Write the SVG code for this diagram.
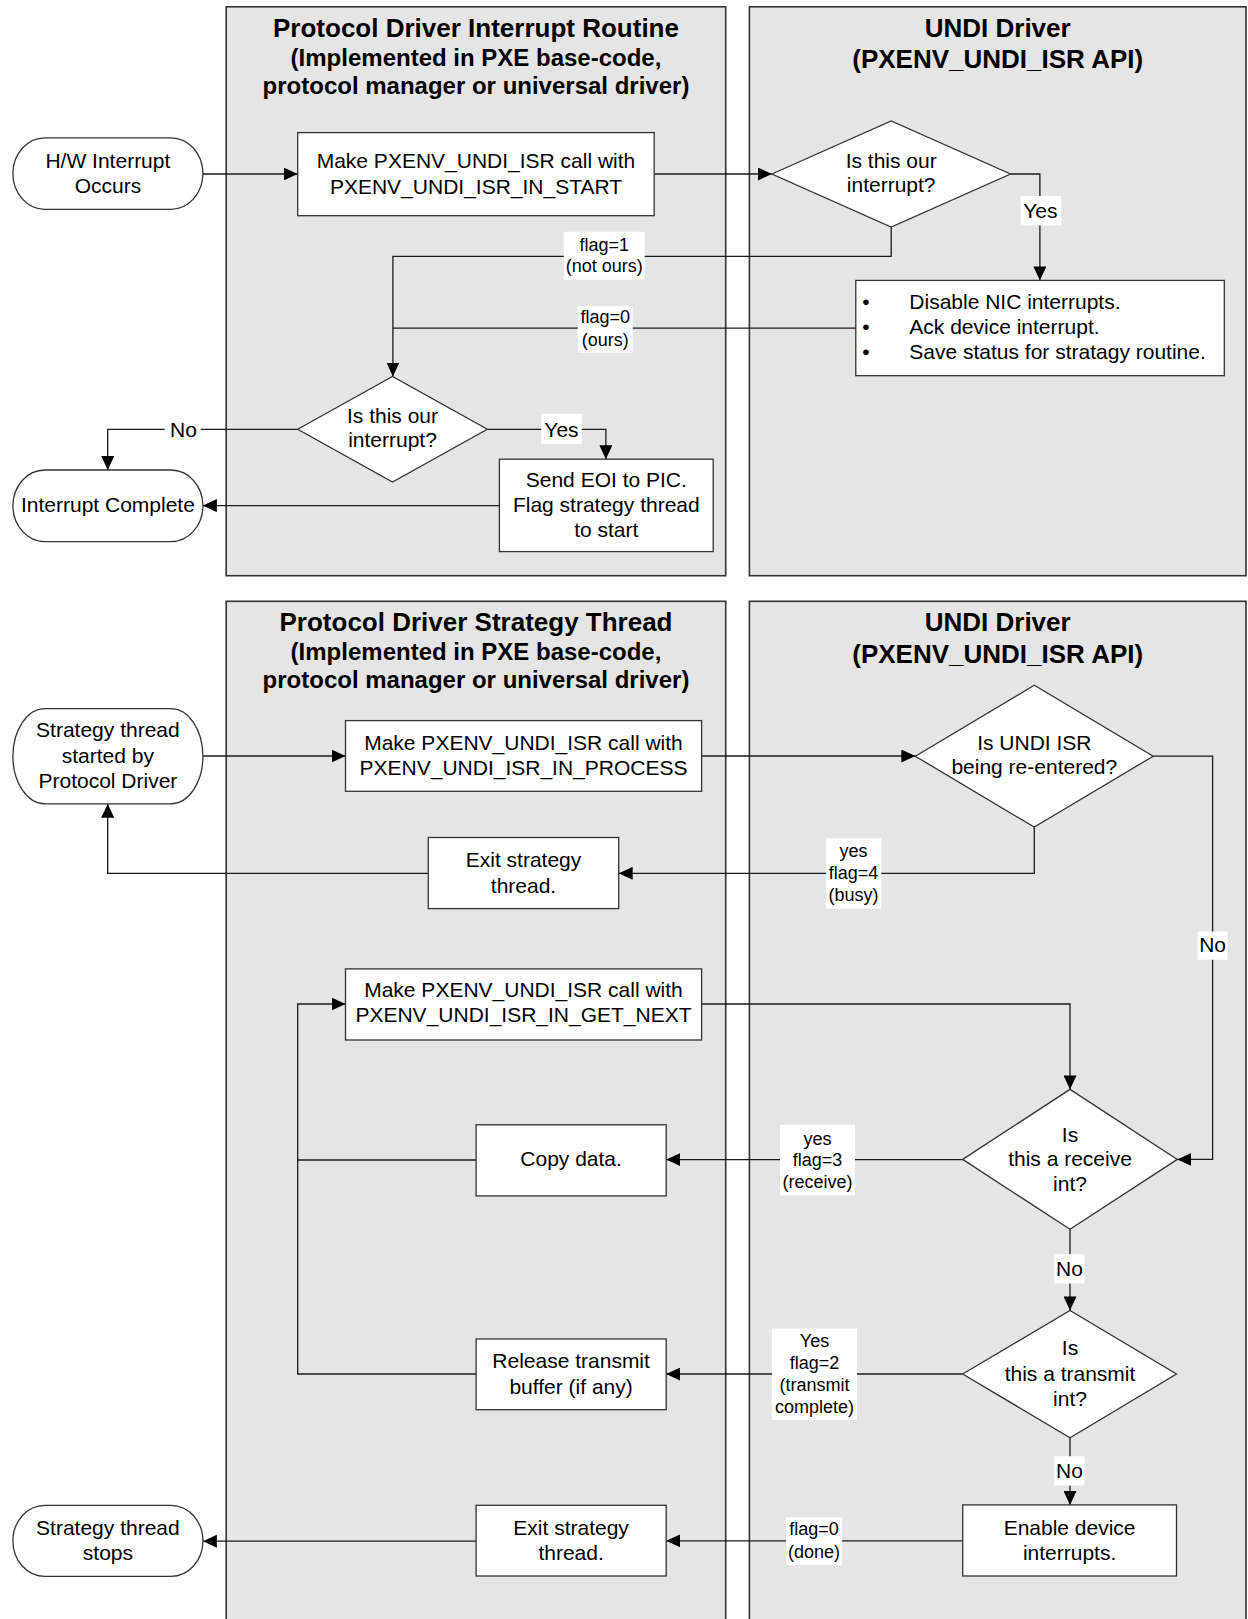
<svg xmlns="http://www.w3.org/2000/svg" width="1248" height="1619" viewBox="0 0 1248 1619">
  <style>
    .lane { fill: #e5e5e5; stroke: #333; stroke-width: 1.6; }
    .node { fill: #fff; stroke: #333; stroke-width: 1.3; }
    .lbg { fill: #fff; stroke: none; }
    .wire { fill: none; stroke: #1a1a1a; stroke-width: 1.3; }
    .arrow { fill: none; stroke: #1a1a1a; stroke-width: 1.3; marker-end: url(#arr); }
    text { font-family: "Liberation Sans", Arial, sans-serif; fill: #000; }
    .t { font-size: 21px; text-anchor: middle; }
    .tl { font-size: 21px; }
    .s { font-size: 18px; text-anchor: middle; }
    .h1 { font-size: 26px; font-weight: bold; text-anchor: middle; }
    .h2 { font-size: 24px; font-weight: bold; text-anchor: middle; }
  </style>
  <defs>
    <marker id="arr" markerUnits="userSpaceOnUse" markerWidth="14" markerHeight="13" refX="14" refY="6.5" orient="auto">
      <path d="M0,0 L14,6.5 L0,13 z" fill="#000"/>
    </marker>
  </defs>

  <!-- swimlanes -->
  <g id="lane-isr">
    <rect class="lane" x="226.2" y="6.8" width="499.5" height="568.9"/>
    <text class="h1" x="476" y="37.4">Protocol Driver Interrupt Routine</text>
    <text class="h2" x="476" y="65.5">(Implemented in PXE base-code,</text>
    <text class="h2" x="476" y="94.4">protocol manager or universal driver)</text>
  </g>
  <g id="lane-undi-isr">
    <rect class="lane" x="749.4" y="6.8" width="496.6" height="568.9"/>
    <text class="h1" x="997.7" y="37">UNDI Driver</text>
    <text class="h1" x="997.7" y="68.3">(PXENV_UNDI_ISR API)</text>
  </g>
  <g id="lane-strategy">
    <rect class="lane" x="226.2" y="601.3" width="499.5" height="1030"/>
    <text class="h1" x="476" y="631.4">Protocol Driver Strategy Thread</text>
    <text class="h2" x="476" y="660.2">(Implemented in PXE base-code,</text>
    <text class="h2" x="476" y="688">protocol manager or universal driver)</text>
  </g>
  <g id="lane-undi-strategy">
    <rect class="lane" x="749.4" y="601.3" width="496.6" height="1030"/>
    <text class="h1" x="997.7" y="631">UNDI Driver</text>
    <text class="h1" x="997.7" y="662.8">(PXENV_UNDI_ISR API)</text>
  </g>

  <!-- connectors -->
  <g id="connectors">
    <path class="arrow" d="M202.9,174 H297.7"/>
    <path class="arrow" d="M654.2,174 H771.9"/>
    <path class="arrow" d="M1010.5,174 H1039.9 V280.4"/>
    <path class="arrow" d="M891.2,227 V256.3 H392.9 V376.5"/>
    <path class="wire" d="M855.8,328.2 H392.9"/>
    <path class="arrow" d="M297.7,429.3 H107.7 V470"/>
    <path class="arrow" d="M487.3,429.3 H605.9 V459.2"/>
    <path class="arrow" d="M499.4,505.6 H202.9"/>

    <path class="arrow" d="M202.9,756 H345.5"/>
    <path class="arrow" d="M701.6,756 H915.3"/>
    <path class="arrow" d="M1034.3,827.1 V873.3 H618.7"/>
    <path class="arrow" d="M428.3,873.3 H107.7 V803.8"/>
    <path class="arrow" d="M1153.2,756.2 H1212.6 V1159.4 H1177.3"/>
    <path class="arrow" d="M701.6,1004 H1070 V1089.4"/>
    <path class="arrow" d="M962.7,1159.6 H666.2"/>
    <path class="wire" d="M476.1,1160 H297.7"/>
    <path class="arrow" d="M476.1,1374 H297.7 V1004 H345.5"/>
    <path class="arrow" d="M1070,1229.3 V1310.4"/>
    <path class="arrow" d="M962.7,1374 H666.2"/>
    <path class="arrow" d="M1070,1437.8 V1504.9"/>
    <path class="arrow" d="M962.7,1540.8 H666.2"/>
    <path class="arrow" d="M476.1,1541.2 H202.9"/>

    <!-- connector labels -->
    <rect class="lbg" x="563.8" y="231.8" width="80.8" height="48"/>
    <text class="s" x="604.2" y="251">flag=1</text>
    <text class="s" x="604.2" y="271.5">(not ours)</text>
    <rect class="lbg" x="577.7" y="306" width="55" height="46.7"/>
    <text class="s" x="605.2" y="323.4">flag=0</text>
    <text class="s" x="605.2" y="345.5">(ours)</text>
    <rect class="lbg" x="1020.6" y="196" width="40.6" height="29.4"/>
    <text class="t" x="1040.4" y="217.5">Yes</text>
    <rect class="lbg" x="164.7" y="414" width="36" height="30"/>
    <text class="t" x="183.5" y="436.5">No</text>
    <rect class="lbg" x="541.2" y="413.8" width="40.6" height="30.2"/>
    <text class="t" x="561.5" y="436.5">Yes</text>

    <rect class="lbg" x="826.1" y="838.3" width="55.1" height="70.3"/>
    <text class="s" x="853.6" y="857.2">yes</text>
    <text class="s" x="853.6" y="879.3">flag=4</text>
    <text class="s" x="853.6" y="901.4">(busy)</text>
    <rect class="lbg" x="1197.7" y="931.5" width="29.8" height="28.2"/>
    <text class="t" x="1212.6" y="951.8">No</text>
    <rect class="lbg" x="780" y="1124.8" width="75" height="70.7"/>
    <text class="s" x="817.5" y="1144.5">yes</text>
    <text class="s" x="817.5" y="1165.8">flag=3</text>
    <text class="s" x="817.5" y="1187.9">(receive)</text>
    <rect class="lbg" x="1054.3" y="1254.2" width="30.2" height="29.3"/>
    <text class="t" x="1069.4" y="1276">No</text>
    <rect class="lbg" x="771.9" y="1328.5" width="85.1" height="91.6"/>
    <text class="s" x="814.5" y="1346.6">Yes</text>
    <text class="s" x="814.5" y="1368.7">flag=2</text>
    <text class="s" x="814.5" y="1390.8">(transmit</text>
    <text class="s" x="814.5" y="1412.9">complete)</text>
    <rect class="lbg" x="1054.3" y="1456.3" width="30.2" height="29.3"/>
    <text class="t" x="1069.4" y="1478">No</text>
    <rect class="lbg" x="786" y="1517.3" width="56.2" height="47.8"/>
    <text class="s" x="814.1" y="1535.4">flag=0</text>
    <text class="s" x="814.1" y="1557.5">(done)</text>
  </g>

  <!-- interrupt routine nodes -->
  <g id="hw-interrupt">
    <rect class="node" x="12.9" y="137.8" width="190" height="71.5" rx="32" ry="35.7"/>
    <text class="t" x="107.9" y="167.5">H/W Interrupt</text>
    <text class="t" x="107.9" y="193.3">Occurs</text>
  </g>
  <g id="isr-start">
    <rect class="node" x="297.7" y="132.6" width="356.5" height="83.1"/>
    <text class="t" x="476" y="168">Make PXENV_UNDI_ISR call with</text>
    <text class="t" x="476" y="193.7">PXENV_UNDI_ISR_IN_START</text>
  </g>
  <g id="undi-ours">
    <polygon class="node" points="771.9,174 891.2,120.9 1010.5,174 891.2,227"/>
    <text class="t" x="891.2" y="168">Is this our</text>
    <text class="t" x="891.2" y="192">interrupt?</text>
  </g>
  <g id="undi-ack">
    <rect class="node" x="855.8" y="280.4" width="368.5" height="95.3"/>
    <text class="t" x="866" y="309.4">•</text>
    <text class="t" x="866" y="333.5">•</text>
    <text class="t" x="866" y="358.8">•</text>
    <text class="tl" x="909.3" y="309.4">Disable NIC interrupts.</text>
    <text class="tl" x="909.3" y="333.5">Ack device interrupt.</text>
    <text class="tl" x="909.3" y="358.8">Save status for stratagy routine.</text>
  </g>
  <g id="isr-ours">
    <polygon class="node" points="297.7,429.3 392.5,376.5 487.3,429.3 392.5,482.1"/>
    <text class="t" x="392.5" y="423">Is this our</text>
    <text class="t" x="392.5" y="447.2">interrupt?</text>
  </g>
  <g id="send-eoi">
    <rect class="node" x="499.4" y="459.2" width="213.8" height="92.4"/>
    <text class="t" x="606.3" y="487">Send EOI to PIC.</text>
    <text class="t" x="606.3" y="512.2">Flag strategy thread</text>
    <text class="t" x="606.3" y="537.2">to start</text>
  </g>
  <g id="interrupt-complete">
    <rect class="node" x="12.9" y="470" width="190" height="71.6" rx="32" ry="35.8"/>
    <text class="t" x="107.9" y="512.2">Interrupt Complete</text>
  </g>

  <!-- strategy thread nodes -->
  <g id="strategy-start">
    <rect class="node" x="12.9" y="708.6" width="190" height="95.2" rx="32" ry="47.6"/>
    <text class="t" x="107.9" y="736.7">Strategy thread</text>
    <text class="t" x="107.9" y="762.8">started by</text>
    <text class="t" x="107.9" y="787.7">Protocol Driver</text>
  </g>
  <g id="isr-process">
    <rect class="node" x="345.5" y="720.6" width="356.1" height="70.7"/>
    <text class="t" x="523.5" y="749.5">Make PXENV_UNDI_ISR call with</text>
    <text class="t" x="523.5" y="774.5">PXENV_UNDI_ISR_IN_PROCESS</text>
  </g>
  <g id="undi-reentered">
    <polygon class="node" points="915.3,756.2 1034.3,685.3 1153.2,756.2 1034.3,827.1"/>
    <text class="t" x="1034.3" y="749.5">Is UNDI ISR</text>
    <text class="t" x="1034.3" y="774">being re-entered?</text>
  </g>
  <g id="exit-busy">
    <rect class="node" x="428.3" y="837.5" width="190.4" height="71.1"/>
    <text class="t" x="523.5" y="866.5">Exit strategy</text>
    <text class="t" x="523.5" y="892.6">thread.</text>
  </g>
  <g id="isr-get-next">
    <rect class="node" x="345.5" y="968.9" width="356.1" height="71.1"/>
    <text class="t" x="523.5" y="996.6">Make PXENV_UNDI_ISR call with</text>
    <text class="t" x="523.5" y="1022">PXENV_UNDI_ISR_IN_GET_NEXT</text>
  </g>
  <g id="undi-receive">
    <polygon class="node" points="962.7,1159.4 1070,1089.4 1177.3,1159.4 1070,1229.3"/>
    <text class="t" x="1070" y="1141.7">Is</text>
    <text class="t" x="1070" y="1166.2">this a receive</text>
    <text class="t" x="1070" y="1190.7">int?</text>
  </g>
  <g id="copy-data">
    <rect class="node" x="476.1" y="1124.8" width="190.1" height="71.1"/>
    <text class="t" x="571.1" y="1166">Copy data.</text>
  </g>
  <g id="undi-transmit">
    <polygon class="node" points="962.7,1374 1070,1310.4 1176.5,1374 1070,1437.8"/>
    <text class="t" x="1070" y="1355.4">Is</text>
    <text class="t" x="1070" y="1380.7">this a transmit</text>
    <text class="t" x="1070" y="1405.6">int?</text>
  </g>
  <g id="release-buffer">
    <rect class="node" x="476.1" y="1339" width="190.1" height="70.7"/>
    <text class="t" x="571.1" y="1367.9">Release transmit</text>
    <text class="t" x="571.1" y="1394">buffer (if any)</text>
  </g>
  <g id="enable-interrupts">
    <rect class="node" x="962.7" y="1504.9" width="213.8" height="71.1"/>
    <text class="t" x="1069.6" y="1535.4">Enable device</text>
    <text class="t" x="1069.6" y="1559.5">interrupts.</text>
  </g>
  <g id="exit-done">
    <rect class="node" x="476.1" y="1505.3" width="190.1" height="70.7"/>
    <text class="t" x="571.1" y="1534.6">Exit strategy</text>
    <text class="t" x="571.1" y="1559.5">thread.</text>
  </g>
  <g id="strategy-stop">
    <rect class="node" x="12.9" y="1505.3" width="190" height="71.1" rx="32" ry="35.5"/>
    <text class="t" x="107.9" y="1534.6">Strategy thread</text>
    <text class="t" x="107.9" y="1559.5">stops</text>
  </g>
</svg>
